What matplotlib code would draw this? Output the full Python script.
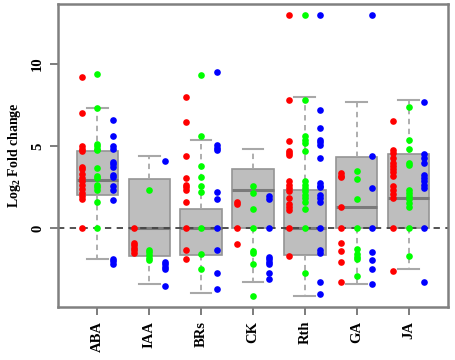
import matplotlib
matplotlib.use('Agg')
import matplotlib.pyplot as plt
import numpy as np

categories = ['ABA', 'IAA', 'BRs', 'CK', 'Rth', 'GA', 'JA']

# box statistics
whisk_lo = [-1.85, -3.4, -3.95, -3.25, -4.1, -3.4, -2.5]
q1 = [2.05, -1.7, -1.65, 0.0, -1.6, 0.0, 0.0]
median = [2.95, 0.0, 0.0, 2.3, 0.0, 1.3, 1.85]
q3 = [4.7, 3.0, 1.15, 3.6, 2.3, 4.35, 4.5]
whisk_hi = [7.3, 4.4, 5.35, 4.85, 8.0, 7.7, 7.8]

# individual points, one list per category
red_vals = [
    [9.2, 7.0, 5.0, 4.8, 4.7, 3.75, 3.6, 3.3, 3.05, 2.85, 2.65, 2.4, 2.15, 1.95, 1.8, 0],
    [0, -0.9, -1.05, -1.2, -1.35, -1.5],
    [8.0, 6.45, 4.4, 3.05, 2.65, 2.5, 2.3, 1.6, 0, -1.3, -1.9],
    [1.6, 1.5, 0, -0.95],
    [13, 7.8, 5.3, 4.7, 4.55, 4.45, 2.85, 2.65, 2.45, 2.25, 1.85, 1.5, 1.3, 1.1, 0, -1.7],
    [3.35, 3.2, 3.1, 1.3, 0, -0.9, -1.4, -2.05, -3.3],
    [6.55, 4.75, 4.6, 4.25, 4.0, 3.8, 3.6, 3.4, 3.2, 2.55, 2.35, 2.1, 1.85, 0, -2.6],
]
green_vals = [
    [9.4, 7.3, 5.15, 5.0, 4.85, 4.75, 3.65, 3.2, 3.05, 2.65, 2.5, 2.35, 1.6, 0],
    [2.3, -1.3, -1.45, -1.6, -1.8, -1.95],
    [9.35, 5.6, 3.8, 3.1, 2.6, 2.2, 0, -1.55, -2.5],
    [2.55, 2.15, 1.2, 0, -1.4, -1.5, -2.2, -4.1],
    [13, 7.8, 5.6, 5.4, 5.2, 4.7, 2.9, 2.65, 2.45, 2.25, 2.05, 1.85, 1.6, 1.2, 0, -2.7],
    [3.5, 3.0, 1.8, 0, -1.25, -1.55, -1.75, -1.9, -2.9],
    [7.4, 5.4, 4.8, 4.0, 3.85, 2.35, 2.15, 1.95, 1.75, 1.55, 1.3, 0, -1.7],
]
blue_vals = [
    [6.6, 5.6, 5.0, 4.8, 4.05, 3.9, 3.75, 3.25, 3.1, 2.55, 2.35, 1.7, -1.85, -2.0, -2.15],
    [4.1, -2.05, -2.2, -2.35, -2.5, -3.5],
    [9.5, 5.05, 4.9, 4.75, 2.2, 1.8, 0, -1.3, -2.7, -3.7],
    [1.95, 1.8, 0, -1.75, -1.9, -2.05, -2.2, -2.7, -3.1],
    [13, 7.2, 6.1, 5.4, 5.25, 5.05, 4.3, 2.75, 2.6, 2.5, 2.05, 1.85, 1.6, 0, -1.35, -1.5, -3.3, -4.0],
    [13, 4.4, 2.45, 0, -1.45, -1.95, -2.5, -3.4],
    [7.7, 4.5, 4.3, 4.0, 3.25, 3.05, 2.85, 2.65, 2.45, 0, -3.3],
]

plt.rcParams['font.family'] = ['Liberation Serif', 'DejaVu Serif']
plt.rcParams['font.weight'] = 'bold'
plt.rcParams['mathtext.fontset'] = 'custom'
plt.rcParams['mathtext.rm'] = 'Liberation Serif:bold'
plt.rcParams['mathtext.it'] = 'Liberation Serif:bold'

fig = plt.figure(figsize=(4.55, 3.6), dpi=100)
ax = fig.add_axes([0.1275, 0.147, 0.857, 0.842])

pos = np.arange(1, len(categories) + 1)
stats = []
for i in range(len(categories)):
    stats.append(dict(whislo=whisk_lo[i], q1=q1[i], med=median[i],
                      q3=q3[i], whishi=whisk_hi[i], fliers=[]))

ax.bxp(stats, positions=pos, widths=0.8, patch_artist=True, showfliers=False,
       boxprops=dict(facecolor='#bebebe', edgecolor='#959595', lw=1.2),
       medianprops=dict(color='#7a7a7a', lw=2.2),
       whiskerprops=dict(color='#a8a8a8', lw=1.3, ls=(0, (3, 2.5))),
       capprops=dict(color='#a8a8a8', lw=1.5),
       capwidths=0.4, zorder=1)

ax.axhline(0, color='#444444', lw=1.3, ls=(0, (3.5, 3)), zorder=2)

offsets = [-0.3, 0.0, 0.3]
colors = ['#ff0000', '#00ff00', '#0000ff']
for vals, dx, col in zip([red_vals, green_vals, blue_vals], offsets, colors):
    for i, v in enumerate(vals):
        ax.plot(np.full(len(v), pos[i] + dx), v, 'o', color=col, ms=4.8,
                mec='none', zorder=3)

ax.set_xlim(0.24, 7.76)
ax.set_ylim(-4.8, 13.65)

ax.set_yticks([0, 5, 10])
ax.set_yticklabels(['0', '5', '10'], rotation=90, va='center', fontsize=10.5,
                   fontweight='bold')
ax.set_xticks(pos)
ax.set_xticklabels(categories, rotation=90, fontsize=10.5, fontweight='bold')
ax.tick_params(axis='both', length=6, width=1.2, color='#666666', pad=4)

for s in ax.spines.values():
    s.set_color('#808080')
    s.set_linewidth(1.8)

ax.set_ylabel('Log$_2$ Fold change', fontsize=10, fontweight='bold', labelpad=6)

fig.savefig('out.png', dpi=100)
